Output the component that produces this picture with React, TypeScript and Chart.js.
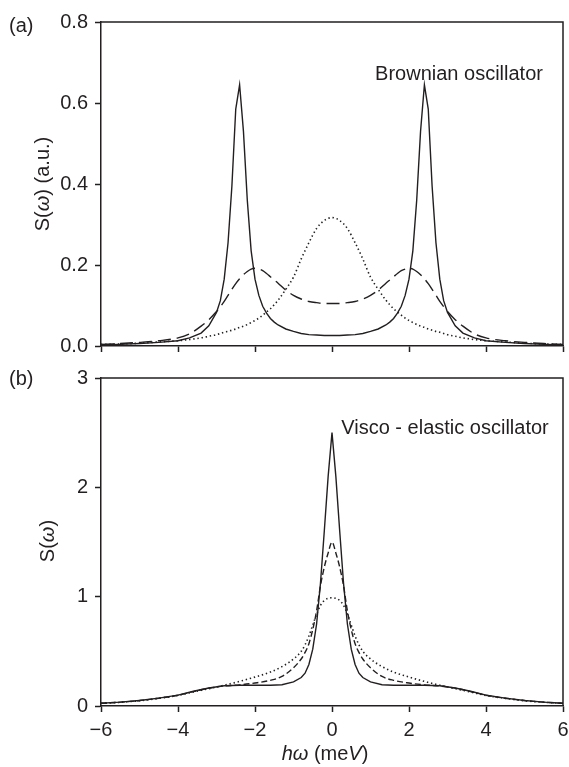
import React, { useEffect, useRef } from 'react';
import { Chart, registerables } from 'chart.js';

Chart.register(...registerables);

// ---------- Data ----------
const xTicks = [-6, -4, -2, 0, 2, 4, 6];
const yTicksA = [0, 0.2, 0.4, 0.6, 0.8];
const yTicksB = [0, 1, 2, 3];

// Panel (a): Brownian oscillator
const xA = [-6, -5.5, -5, -4.5, -4, -3.7, -3.4, -3.2, -3, -2.9, -2.8, -2.7, -2.6, -2.5, -2.4, -2.3, -2.2, -2.1, -2, -1.9, -1.8, -1.7, -1.6, -1.5, -1.4, -1.2, -1, -0.8, -0.6, -0.4, -0.2, 0,
  0.2, 0.4, 0.6, 0.8, 1, 1.2, 1.4, 1.5, 1.6, 1.7, 1.8, 1.9, 2, 2.1, 2.2, 2.3, 2.4, 2.5, 2.6, 2.7, 2.8, 2.9, 3, 3.2, 3.4, 3.7, 4, 4.5, 5, 5.5, 6];
const brownSolid = [0.003, 0.004, 0.006, 0.009, 0.013, 0.02, 0.032, 0.05, 0.083, 0.112, 0.165, 0.255, 0.395, 0.585, 0.645, 0.53, 0.36, 0.235, 0.165, 0.125, 0.098, 0.081, 0.068, 0.059, 0.052, 0.042, 0.036, 0.031, 0.028, 0.027, 0.026, 0.026,
  0.026, 0.027, 0.028, 0.031, 0.036, 0.042, 0.052, 0.059, 0.068, 0.081, 0.098, 0.125, 0.165, 0.235, 0.36, 0.53, 0.645, 0.585, 0.395, 0.255, 0.165, 0.112, 0.083, 0.05, 0.032, 0.02, 0.013, 0.009, 0.006, 0.004, 0.003];
const brownDashed = [0.004, 0.006, 0.009, 0.013, 0.02, 0.03, 0.049, 0.065, 0.085, 0.097, 0.11, 0.125, 0.14, 0.154, 0.166, 0.176, 0.184, 0.19, 0.192, 0.19, 0.186, 0.179, 0.171, 0.163, 0.155, 0.138, 0.125, 0.116, 0.11, 0.107, 0.105, 0.105,
  0.105, 0.107, 0.11, 0.116, 0.125, 0.138, 0.155, 0.163, 0.171, 0.179, 0.186, 0.19, 0.192, 0.19, 0.184, 0.176, 0.166, 0.154, 0.14, 0.125, 0.11, 0.097, 0.085, 0.065, 0.049, 0.03, 0.02, 0.013, 0.009, 0.006, 0.004];
const brownDotted = [0.004, 0.005, 0.007, 0.01, 0.013, 0.016, 0.02, 0.024, 0.028, 0.031, 0.034, 0.036, 0.039, 0.042, 0.046, 0.049, 0.053, 0.058, 0.063, 0.069, 0.076, 0.084, 0.092, 0.102, 0.113, 0.14, 0.17, 0.215, 0.255, 0.29, 0.31, 0.317,
  0.31, 0.29, 0.255, 0.215, 0.17, 0.14, 0.113, 0.102, 0.092, 0.084, 0.076, 0.069, 0.063, 0.058, 0.053, 0.049, 0.046, 0.042, 0.039, 0.036, 0.034, 0.031, 0.028, 0.024, 0.02, 0.016, 0.013, 0.01, 0.007, 0.005, 0.004];

// Panel (b): Visco-elastic oscillator
const xB = [-6, -5.5, -5, -4.5, -4, -3.6, -3.2, -2.8, -2.4, -2, -1.6, -1.3, -1, -0.8, -0.7, -0.6, -0.5, -0.4, -0.3, -0.2, -0.1, 0,
  0.1, 0.2, 0.3, 0.4, 0.5, 0.6, 0.7, 0.8, 1, 1.3, 1.6, 2, 2.4, 2.8, 3.2, 3.6, 4, 4.5, 5, 5.5, 6];
const viscoSolid = [0.025, 0.035, 0.05, 0.072, 0.1, 0.135, 0.165, 0.185, 0.19, 0.19, 0.19, 0.195, 0.22, 0.26, 0.3, 0.38, 0.52, 0.75, 1.12, 1.6, 2.1, 2.5,
  2.1, 1.6, 1.12, 0.75, 0.52, 0.38, 0.3, 0.26, 0.22, 0.195, 0.19, 0.19, 0.19, 0.185, 0.165, 0.135, 0.1, 0.072, 0.05, 0.035, 0.025];
const viscoDashed = [0.025, 0.035, 0.05, 0.071, 0.098, 0.132, 0.163, 0.183, 0.193, 0.21, 0.235, 0.27, 0.35, 0.43, 0.49, 0.57, 0.7, 0.87, 1.1, 1.27, 1.4, 1.5,
  1.4, 1.27, 1.1, 0.87, 0.7, 0.57, 0.49, 0.43, 0.35, 0.27, 0.235, 0.21, 0.193, 0.183, 0.163, 0.132, 0.098, 0.071, 0.05, 0.035, 0.025];
const viscoDotted = [0.024, 0.034, 0.048, 0.07, 0.096, 0.128, 0.158, 0.19, 0.225, 0.265, 0.31, 0.36, 0.43, 0.5, 0.56, 0.64, 0.74, 0.84, 0.92, 0.965, 0.985, 0.99,
  0.985, 0.965, 0.92, 0.84, 0.74, 0.64, 0.56, 0.5, 0.43, 0.36, 0.31, 0.265, 0.225, 0.19, 0.158, 0.128, 0.096, 0.07, 0.048, 0.034, 0.024];

// ---------- Styling ----------
const INK = '#231f20';
const FONT = "'Liberation Sans', Arial, Helvetica, sans-serif";

const framePlugin = {
  id: 'frame',
  afterDraw(chart: any) {
    const { ctx, chartArea } = chart;
    ctx.save();
    ctx.strokeStyle = INK;
    ctx.lineWidth = 1.5;
    ctx.beginPath();
    ctx.moveTo(chartArea.left, chartArea.top);
    ctx.lineTo(chartArea.right, chartArea.top);
    ctx.lineTo(chartArea.right, chartArea.bottom);
    ctx.stroke();
    ctx.restore();
  },
};

function pts(xs: number[], ys: number[]) {
  return xs.map((x, i) => ({ x, y: ys[i] }));
}

function makeConfig(opts: {
  xs: number[];
  solid: number[];
  dashed: number[];
  dotted: number[];
  dash: number[];
  yMax: number;
  yTicks: number[];
  yFmt: (v: number) => string;
  showXLabels: boolean;
  xHeight: number;
  padTop: number;
}) {
  const common = { pointRadius: 0, borderColor: INK, fill: false };
  return {
    type: 'line',
    data: {
      datasets: [
        { ...common, data: pts(opts.xs, opts.dotted), borderWidth: 1.6, borderDash: [1.4, 2.8], cubicInterpolationMode: 'monotone' },
        { ...common, data: pts(opts.xs, opts.dashed), borderWidth: 1.4, borderDash: opts.dash, cubicInterpolationMode: 'monotone' },
        { ...common, data: pts(opts.xs, opts.solid), borderWidth: 1.4, tension: 0 },
      ],
    },
    options: {
      responsive: false,
      animation: false,
      events: [],
      layout: { padding: { top: opts.padTop, right: 6, left: 0, bottom: 0 } },
      plugins: { legend: { display: false }, tooltip: { enabled: false } },
      scales: {
        x: {
          type: 'linear',
          min: -6,
          max: 6,
          afterBuildTicks: (s: any) => { s.ticks = xTicks.map((v) => ({ value: v })); },
          afterFit: (s: any) => { s.height = opts.xHeight; s.paddingLeft = 0; s.paddingRight = 0; },
          grid: { drawOnChartArea: false, drawTicks: true, tickLength: 6, tickWidth: 1.5, color: INK },
          border: { display: true, color: INK, width: 1.5 },
          ticks: {
            display: opts.showXLabels,
            padding: 6,
            color: INK,
            font: { family: FONT, size: 20 },
            maxRotation: 0,
            callback: (v: any) => String(v).replace('-', '\u2212'),
          },
        },
        y: {
          type: 'linear',
          min: 0,
          max: opts.yMax,
          afterBuildTicks: (s: any) => { s.ticks = opts.yTicks.map((v) => ({ value: v })); },
          afterFit: (s: any) => { s.width = 101; s.paddingTop = 0; s.paddingBottom = 0; },
          grid: { drawOnChartArea: false, drawTicks: true, tickLength: 6, tickWidth: 1.5, color: INK },
          border: { display: true, color: INK, width: 1.5 },
          ticks: {
            padding: 7,
            color: INK,
            font: { family: FONT, size: 20, lineHeight: 1 },
            callback: (v: any) => opts.yFmt(Number(v)),
          },
        },
      },
    },
    plugins: [framePlugin],
  } as any;
}

const textBase: React.CSSProperties = {
  position: 'absolute',
  fontFamily: FONT,
  fontSize: 20,
  color: INK,
  whiteSpace: 'nowrap',
  lineHeight: 1,
};

export default function App() {
  const refA = useRef<HTMLCanvasElement>(null);
  const refB = useRef<HTMLCanvasElement>(null);

  useEffect(() => {
    const chartA = new Chart(refA.current as HTMLCanvasElement, makeConfig({
      xs: xA, solid: brownSolid, dashed: brownDashed, dotted: brownDotted,
      dash: [13, 6], yMax: 0.8, yTicks: yTicksA, yFmt: (v) => v.toFixed(1),
      showXLabels: false, xHeight: 14, padTop: 22,
    }));
    const chartB = new Chart(refB.current as HTMLCanvasElement, makeConfig({
      xs: xB, solid: viscoSolid, dashed: viscoDashed, dotted: viscoDotted,
      dash: [6, 3], yMax: 3, yTicks: yTicksB, yFmt: (v) => String(Math.round(v)),
      showXLabels: true, xHeight: 61, padTop: 18,
    }));
    return () => { chartA.destroy(); chartB.destroy(); };
  }, []);

  return (
    <div style={{ position: 'absolute', left: 0, top: 0, width: 569, height: 767, background: '#fff', overflow: 'hidden' }}>
      <canvas ref={refA} width={569} height={360} style={{ position: 'absolute', left: 0, top: 0, width: 569, height: 360 }} />
      <canvas ref={refB} width={569} height={407} style={{ position: 'absolute', left: 0, top: 360, width: 569, height: 407 }} />

      <div style={{ ...textBase, left: 9, top: 25, transform: 'translateY(-50%)' }}>(a)</div>
      <div style={{ ...textBase, left: 9, top: 378, transform: 'translateY(-50%)' }}>(b)</div>

      <div style={{ ...textBase, left: 42, top: 184, transform: 'translate(-50%, -50%) rotate(-90deg)' }}>
        S(<i>ω</i>) (a.u.)
      </div>
      <div style={{ ...textBase, left: 47, top: 541, transform: 'translate(-50%, -50%) rotate(-90deg)' }}>
        S(<i>ω</i>)
      </div>

      <div style={{ ...textBase, left: 325, top: 753, transform: 'translate(-50%, -50%)' }}>
        <i>hω</i> (me<i>V</i>)
      </div>

      <div style={{ ...textBase, left: 459, top: 73, transform: 'translate(-50%, -50%)' }}>Brownian oscillator</div>
      <div style={{ ...textBase, left: 445, top: 427, transform: 'translate(-50%, -50%)' }}>Visco - elastic oscillator</div>
    </div>
  );
}
